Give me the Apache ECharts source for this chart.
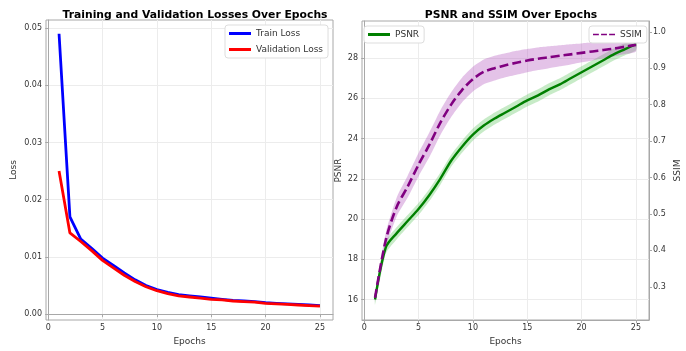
<!DOCTYPE html>
<html>
<head>
<meta charset="utf-8">
<script src="https://cdn.jsdelivr.net/npm/echarts@6/dist/echarts.min.js"></script>
<style>
  html, body { margin: 0; padding: 0; background: #fff; }
  #main { width: 686px; height: 351px; }
</style>
</head>
<body>
<div id="main"></div>
<script>
// data
var epochs = [1, 2, 3, 4, 5, 6, 7, 8, 9, 10, 11, 12, 13, 14, 15, 16, 17, 18, 19, 20, 21, 22, 23, 24, 25];
var trainLoss = [0.0490, 0.0170, 0.0131, 0.0115, 0.0098, 0.0085, 0.0072, 0.0060, 0.0050, 0.0043, 0.0038, 0.0034, 0.0032, 0.0030, 0.0028, 0.0026, 0.0024, 0.0023, 0.0022, 0.0020, 0.0019, 0.0018, 0.0017, 0.0016, 0.0015];
var valLoss = [0.0250, 0.0142, 0.0127, 0.0111, 0.0094, 0.0081, 0.0068, 0.0057, 0.0048, 0.0041, 0.0036, 0.0032, 0.0030, 0.0028, 0.0026, 0.0025, 0.0023, 0.0022, 0.0021, 0.0019, 0.0018, 0.0017, 0.0016, 0.0015, 0.0014];
var psnr = [16.0, 18.6, 19.3, 19.9, 20.5, 21.2, 22.0, 22.9, 23.6, 24.2, 24.65, 25.0, 25.3, 25.6, 25.9, 26.15, 26.45, 26.7, 27.0, 27.3, 27.6, 27.9, 28.2, 28.45, 28.7];
var psnrStd = [0.25, 0.3, 0.3, 0.3, 0.3, 0.3, 0.3, 0.3, 0.3, 0.3, 0.3, 0.3, 0.3, 0.3, 0.3, 0.3, 0.3, 0.3, 0.3, 0.3, 0.3, 0.3, 0.3, 0.3, 0.3];
var ssim = [0.27, 0.43, 0.52, 0.575, 0.635, 0.69, 0.75, 0.80, 0.84, 0.87, 0.89, 0.90, 0.908, 0.915, 0.921, 0.926, 0.93, 0.934, 0.938, 0.942, 0.946, 0.95, 0.954, 0.959, 0.964];
var ssimStd = [0.01, 0.02, 0.026, 0.03, 0.032, 0.034, 0.034, 0.034, 0.034, 0.034, 0.034, 0.034, 0.033, 0.033, 0.032, 0.031, 0.03, 0.029, 0.028, 0.026, 0.025, 0.023, 0.021, 0.02, 0.018];

var xTicks = [0, 5, 10, 15, 20, 25];
var lossTicks = [0, 0.01, 0.02, 0.03, 0.04, 0.05];
var psnrTicks = [16, 18, 20, 22, 24, 26, 28];
var ssimTicks = [0.3, 0.4, 0.5, 0.6, 0.7, 0.8, 0.9, 1.0];

function pairs(ys) {
    return epochs.map(function (e, i) { return [e, ys[i]]; });
}

// mean +- std band, drawn as one polygon through the axis scales
function bandSeries(mean, std, yIdx, fill) {
    var rows = epochs.map(function (e, i) { return [e, mean[i] - std[i], mean[i] + std[i]]; });
    return {
        type: 'custom', xAxisIndex: 1, yAxisIndex: yIdx, silent: true, z: 1,
        data: rows,
        encode: { x: 0, y: [1, 2] },
        renderItem: function (params, api) {
            if (params.dataIndex !== 0) return null;
            var top = rows.map(function (r) { return api.coord([r[0], r[2]]); });
            var bot = rows.map(function (r) { return api.coord([r[0], r[1]]); }).reverse();
            return {
                type: 'polygon',
                shape: { points: top.concat(bot), smooth: 0.2 },
                style: { fill: fill },
                clipPath: { type: 'rect', shape: params.coordSys }
            };
        }
    };
}

var font = 'DejaVu Sans';
var spine = '#a8a8a8';
var gridCol = '#ececec';
var tickTxt = { color: '#333', fontSize: 8, fontFamily: font, margin: 4 };

function xAxisCfg(gi) {
    return {
        type: 'value', gridIndex: gi, min: -0.2, max: 26.2,
        name: 'Epochs', nameLocation: 'middle', nameGap: 17,
        nameTextStyle: { color: '#333', fontSize: 9, fontFamily: font },
        axisLine: { lineStyle: { color: spine } },
        axisTick: { show: true, length: 3, lineStyle: { color: spine }, customValues: xTicks },
        axisLabel: Object.assign({ customValues: xTicks }, tickTxt),
        splitLine: { show: true, lineStyle: { color: gridCol } }
    };
}

var chart = echarts.init(document.getElementById('main'));
var option = {
    animation: false,
    backgroundColor: '#fff',
    title: [
        { text: 'Training and Validation Losses Over Epochs', left: 190, top: 5, textAlign: 'center',
          textStyle: { fontSize: 10.8, fontWeight: 'bold', fontFamily: font, color: '#000' } },
        { text: 'PSNR and SSIM Over Epochs', left: 506, top: 5, textAlign: 'center',
          textStyle: { fontSize: 10.8, fontWeight: 'bold', fontFamily: font, color: '#000' } }
    ],
    legend: [
        { data: [{ name: 'Train Loss', icon: 'rect' }, { name: 'Validation Loss', icon: 'rect' }],
          orient: 'vertical', left: 225, top: 25, itemWidth: 22, itemHeight: 3, itemGap: 7,
          padding: [4, 5, 4, 4], backgroundColor: '#fff', borderColor: '#ddd', borderWidth: 1, borderRadius: 3,
          textStyle: { fontSize: 9, fontFamily: font, color: '#333' } },
        { data: [{ name: 'PSNR', icon: 'rect' }],
          left: 364, top: 26, itemWidth: 22, itemHeight: 3,
          padding: [4, 5, 4, 4], backgroundColor: '#fff', borderColor: '#ddd', borderWidth: 1, borderRadius: 3,
          textStyle: { fontSize: 9, fontFamily: font, color: '#333' } },
        { data: [{ name: 'SSIM', icon: 'path://M0,0h8v2h-8z M11,0h8v2h-8z M22,0h8v2h-8z' }],
          left: 589, top: 26, itemWidth: 22, itemHeight: 3,
          padding: [4, 5, 4, 4], backgroundColor: '#fff', borderColor: '#ddd', borderWidth: 1, borderRadius: 3,
          textStyle: { fontSize: 9, fontFamily: font, color: '#333' } }
    ],
    grid: [
        { left: 46, right: 353, top: 20, bottom: 24, show: true, borderColor: spine, borderWidth: 1, backgroundColor: 'transparent' },
        { left: 362, right: 37, top: 21, bottom: 24, show: true, borderColor: spine, borderWidth: 1, backgroundColor: 'transparent' }
    ],
    xAxis: [xAxisCfg(0), xAxisCfg(1)],
    yAxis: [
        { type: 'value', gridIndex: 0, min: -0.00102, max: 0.0514,
          name: 'Loss', nameLocation: 'middle', nameGap: 28, nameRotate: 90,
          nameTextStyle: { color: '#333', fontSize: 9, fontFamily: font },
          axisLine: { show: true, lineStyle: { color: spine } },
          axisTick: { show: true, length: 3, lineStyle: { color: spine }, customValues: lossTicks },
          axisLabel: Object.assign({ customValues: lossTicks, formatter: function (v) { return v.toFixed(2); } }, tickTxt),
          splitLine: { show: true, lineStyle: { color: gridCol } } },
        { type: 'value', gridIndex: 1, min: 14.98, max: 29.85, position: 'left',
          name: 'PSNR', nameLocation: 'middle', nameGap: 19, nameRotate: 90,
          nameTextStyle: { color: '#333', fontSize: 9, fontFamily: font },
          axisLine: { show: true, lineStyle: { color: spine } },
          axisTick: { show: true, length: 3, lineStyle: { color: spine }, customValues: psnrTicks },
          axisLabel: Object.assign({ customValues: psnrTicks }, tickTxt),
          splitLine: { show: true, lineStyle: { color: gridCol } } },
        { type: 'value', gridIndex: 1, min: 0.209, max: 1.0295, position: 'right',
          name: 'SSIM', nameLocation: 'middle', nameGap: 24, nameRotate: 90,
          nameTextStyle: { color: '#333', fontSize: 9, fontFamily: font },
          axisLine: { show: true, lineStyle: { color: spine } },
          axisTick: { show: true, length: 3, lineStyle: { color: spine }, customValues: ssimTicks },
          axisLabel: Object.assign({ customValues: ssimTicks, formatter: function (v) { return v.toFixed(1); } }, tickTxt),
          splitLine: { show: false } }
    ],
    series: [
        { name: 'Train Loss', type: 'line', xAxisIndex: 0, yAxisIndex: 0, data: pairs(trainLoss),
          showSymbol: false, color: '#0000ff', lineStyle: { width: 2.8, color: '#0000ff' } },
        { name: 'Validation Loss', type: 'line', xAxisIndex: 0, yAxisIndex: 0, data: pairs(valLoss),
          showSymbol: false, color: '#ff0000', lineStyle: { width: 2.8, color: '#ff0000' } },
        bandSeries(psnr, psnrStd, 1, 'rgba(70,190,70,0.3)'),
        bandSeries(ssim, ssimStd, 2, 'rgba(180,90,190,0.36)'),
        { name: 'PSNR', type: 'line', xAxisIndex: 1, yAxisIndex: 1, data: pairs(psnr), smooth: 0.3, z: 3,
          showSymbol: false, color: '#008000', lineStyle: { width: 2.4, color: '#008000' } },
        { name: 'SSIM', type: 'line', xAxisIndex: 1, yAxisIndex: 2, data: pairs(ssim), smooth: 0.3, z: 3,
          showSymbol: false, color: '#800080', lineStyle: { width: 2.6, color: '#800080', type: [9, 4] } }
    ]
};
chart.setOption(option);
</script>
</body>
</html>
